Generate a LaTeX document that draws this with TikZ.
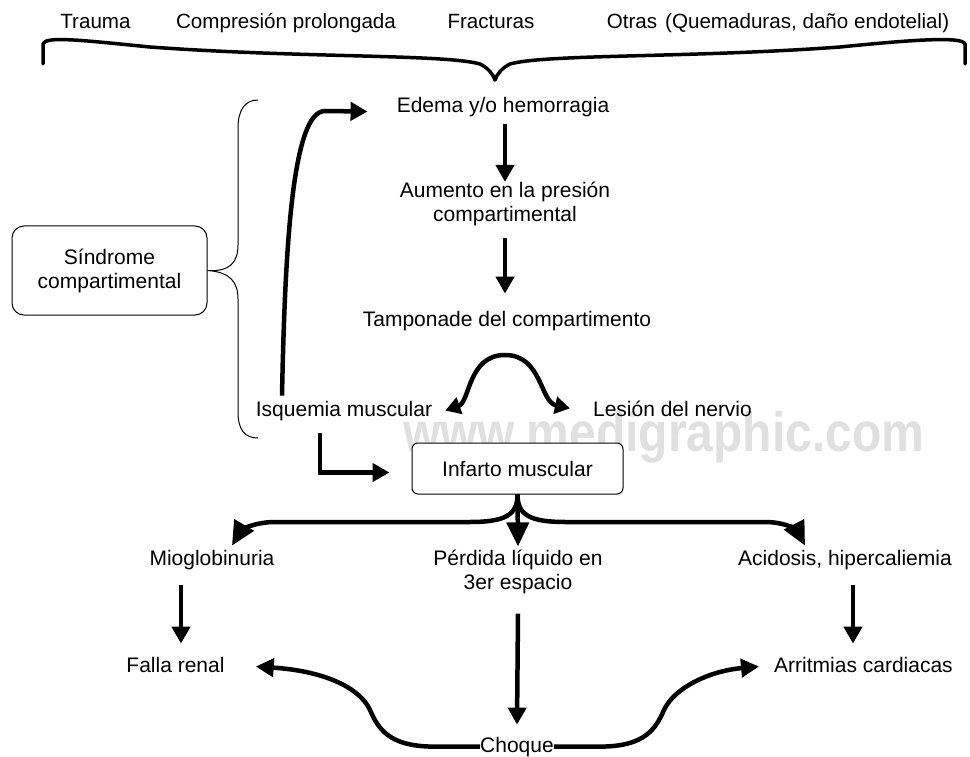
\documentclass[tikz,border=0pt]{standalone}
\usepackage{fontspec}
\setmainfont{Liberation Sans}
\usetikzlibrary{arrows.meta,calc}
\begin{document}
\begin{tikzpicture}[x=1pt,y=-1pt,
  txt/.style={inner sep=0pt, font=\fontsize{21}{24}\selectfont, align=center},
  toptxt/.style={inner sep=0pt, font=\fontsize{20.6}{24}\selectfont},
  rbox/.style={draw, line width=1pt, rounded corners=12pt, fill=white},
  thin/.style={line width=1pt},
  arr/.style={line width=4.5pt, -{Triangle[length=17pt,width=18pt]}},
  bigarr/.style={line width=4.5pt, -{Triangle[length=24pt,width=22pt]}},
  carr/.style={line width=4.5pt, -{Triangle[length=18pt,width=18pt]}},
  arch/.style={line width=4.5pt, {Triangle[length=15pt,width=17pt]}-{Triangle[length=15pt,width=17pt]}},
  brace/.style={line width=3.5pt, line cap=round, line join=round}
]
\fill[white] (0,0) rectangle (970,757);
\useasboundingbox (0,0) rectangle (970,757);

% watermark
\node[inner sep=0pt, anchor=base west, font=\bfseries\fontsize{48}{50}\selectfont, text=black!12] (wm) at (403,451) {\scalebox{1}[1.15]{www.medigraphic.com}};

% top row
\node[toptxt, anchor=base] (trauma) at (95.5,29) {Trauma};
\node[toptxt, anchor=base] (compr) at (286,29) {Compresión prolongada};
\node[toptxt, anchor=base] (fract) at (491,29) {Fracturas};
\node[toptxt, anchor=base] (otras) at (778,29) {Otras\hspace{8pt}(Quemaduras, daño endotelial)};

\draw[brace] (43,64) -- (43,44) .. controls (45,36) and (80,40) .. (150,47)
  .. controls (300,58) and (445,54) .. (480,64) .. controls (488,68) and (493,74) .. (495,80)
  .. controls (497,74) and (502,68) .. (510,64) .. controls (545,54) and (690,58) .. (840,47)
  .. controls (910,40) and (963,36) .. (965,44) -- (965,64);

% main column
\node[txt, anchor=base] (edema) at (503,113) {Edema y/o hemorragia};
\node[txt] (aum) at (505,204) {Aumento en la presión\\compartimental};
\node[txt, anchor=base] (tamp) at (507,326) {Tamponade del compartimento};
\node[txt, anchor=base] (isq) at (344,416) {Isquemia muscular};
\node[txt, anchor=base] (les) at (672.5,416) {Lesión del nervio};
\node[txt, rbox, minimum width=195pt, minimum height=89pt] (sind) at (109.5,270.5) {Síndrome\\compartimental};
\node[txt, rbox, rounded corners=6pt, minimum width=211pt, minimum height=51pt] (inf) at (517.5,468.5) {Infarto muscular};

% bottom
\node[txt, anchor=base] (mio) at (212,565) {Mioglobinuria};
\node[txt] (perd) at (518,571.5) {Pérdida líquido en\\3er espacio};
\node[txt, anchor=base] (acid) at (845,565) {Acidosis, hipercaliemia};
\node[txt, anchor=base] (fr) at (175.5,672) {Falla renal};
\node[txt, anchor=base] (arrit) at (863.5,672) {Arritmias cardiacas};
\node[txt, anchor=base] (choque) at (517,752) {Choque};

% Síndrome brace
\draw[thin] (258,100) .. controls (245,100) and (238,110) .. (238,128) -- (238,245)
  .. controls (238,262) and (230,272) .. (sind.east)
  .. controls (230,272) and (238,282) .. (238,299) -- (238,412)
  .. controls (238,430) and (245,438) .. (258,438);

% arrows main column
\draw[arr] ($(aum.north |- edema.south)+(0,6)$) -- (aum.north);
\draw[arr] ($(aum.south)+(0,12)$) -- ($(tamp.north -| aum.south)+(0,-17)$);
\draw[arr] ($(isq.north)+(-62,-5)$) .. controls (285,250) and (292,111) .. (325,111) -- ($(edema.west)+(-29,4)$);
\draw[arch] ($(isq.east)+(13,0)$) .. controls (470,402) and (468,355) .. (505,355)
  .. controls (542,355) and (540,402) .. ($(les.west)+(-23,0)$);
\draw[arr] ($(isq.south)+(-24,12)$) |- ($(inf.west)+(-22,4)$);

% three-way from infarto
\draw[bigarr] (inf.south) .. controls (517.5,515) and (505,522) .. (470,522) -- (275,522)
  .. controls (252,522) and (240,532) .. ($(mio.north)+(20,-4)$);
\draw[bigarr] (inf.south) .. controls (517.5,515) and (530,522) .. (565,522) -- (765,522)
  .. controls (788,522) and (798,532) .. ($(acid.north)+(-40,-4)$);
\draw[bigarr] (inf.south) -- ($(perd.north)+(0,-3)$);

% lower arrows
\draw[arr] ($(fr.north |- mio.south)+(5.5,15)$) -- ($(fr.north)+(5.5,-13)$);
\draw[arr] ($(arrit.north |- acid.south)+(-10.5,15)$) -- ($(arrit.north)+(-10.5,-13)$);
\draw[arr] ($(perd.south)+(0,20)$) -- ($(choque.north)+(0,-12)$);
\draw[carr] (choque.west) -- (432,746.6) .. controls (388,746) and (378,728) .. (370,710)
  .. controls (360,688) and (325,671) .. ($(fr.east)+(31,2)$);
\draw[carr] (choque.east) -- (602,746.6) .. controls (646,746) and (656,728) .. (664,710)
  .. controls (674,688) and (709,671) .. ($(arrit.west)+(-15,2)$);
\end{tikzpicture}
\end{document}
